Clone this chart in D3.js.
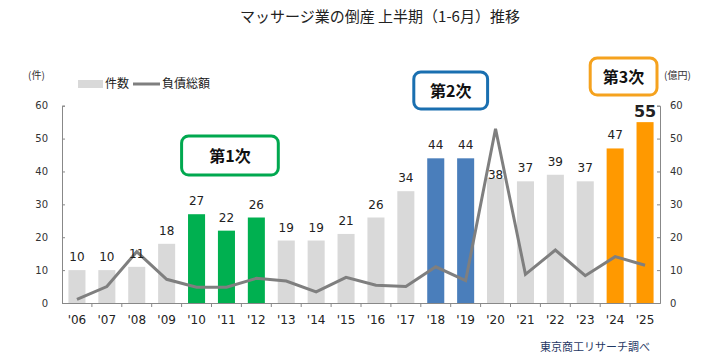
<!DOCTYPE html>
<html><head><meta charset="utf-8">
<script src="https://cdn.jsdelivr.net/npm/d3@7"></script>
<style>body{margin:0;background:#fff}svg{display:block}</style>
</head><body><svg id="c" width="701" height="360"></svg>
<script>
const years = ["'06","'07","'08","'09","'10","'11","'12","'13","'14","'15","'16","'17","'18","'19","'20","'21","'22","'23","'24","'25"];
const counts = [10,10,11,18,27,22,26,19,19,21,26,34,44,44,38,37,39,37,47,55];
const debt = [1.1,5.0,15.6,7.2,4.8,4.8,7.5,6.7,3.4,7.8,5.4,5.0,11.0,6.8,53.0,8.7,16.1,8.3,14.1,11.5];
const phase = [0,0,0,0,1,1,1,0,0,0,0,0,2,2,0,0,0,0,3,3];
const yTicks = [0,10,20,30,40,50,60];
const phaseLabels = ["第1次","第2次","第3次"];

const colors = ["#d9d9d9","#00b050","#4a7ebb","#ff9900"];
const boxColors = ["#00a84f","#1a6fb0","#f5a21e"];
const svg = d3.select("#c");
const L=62, R=660, T=105.7, B=303;
const x = d3.scaleBand().domain(years).range([L,R]).paddingInner(0.43).paddingOuter(0.215);
const xb = d3.scaleBand().domain(years).range([L,R]);
const yL = d3.scaleLinear().domain([0,60]).range([B,T]);
const yR = d3.scaleLinear().domain([0,60]).range([B,T]);
const jp = "'Noto Sans CJK JP', sans-serif";
const num = "'DejaVu Sans', Verdana, sans-serif";

svg.append("text").attr("x",380).attr("y",22).attr("text-anchor","middle")
  .attr("font-family",jp).attr("font-size",15).attr("fill","#222")
  .text("マッサージ業の倒産 上半期（1-6月）推移");

// legend
svg.append("rect").attr("x",78).attr("y",80).attr("width",25).attr("height",8).attr("fill","#d9d9d9");
svg.append("text").attr("x",105).attr("y",88).attr("font-family",jp).attr("font-size",12).attr("fill","#222").text("件数");
svg.append("line").attr("x1",133).attr("x2",160).attr("y1",84).attr("y2",84).attr("stroke","#7f7f7f").attr("stroke-width",3);
svg.append("text").attr("x",162).attr("y",88).attr("font-family",jp).attr("font-size",12).attr("fill","#222").text("負債総額");

svg.append("text").attr("x",28).attr("y",79).attr("font-family",jp).attr("font-size",10).attr("fill","#333").text("(件)");
svg.append("text").attr("x",664).attr("y",79).attr("font-family",jp).attr("font-size",10).attr("fill","#333").text("(億円)");

// bars
svg.append("g").selectAll("rect").data(counts).join("rect")
  .attr("x",(d,i)=>x(years[i])).attr("width",x.bandwidth())
  .attr("y",d=>yL(d)).attr("height",d=>B-yL(d))
  .attr("fill",(d,i)=>colors[phase[i]]);

// axes
const axL = svg.append("g").attr("transform",`translate(${L},0)`)
  .call(d3.axisLeft(yL).tickValues(yTicks).tickSize(-3).tickPadding(14));
const axR = svg.append("g").attr("transform",`translate(${R},0)`)
  .call(d3.axisRight(yR).tickValues(yTicks).tickSize(-3).tickPadding(10));
[axL,axR].forEach(a=>{a.select(".domain").attr("stroke","#888");a.selectAll("line").attr("stroke","#888");
  a.selectAll("text").attr("font-family",num).attr("font-size",10).attr("fill","#333");});
const axB = svg.append("g").attr("transform",`translate(0,${B})`)
  .call(d3.axisBottom(xb).tickSize(0).tickPadding(12));
axB.select(".domain").attr("stroke","#888");
axB.selectAll("text").attr("font-family",num).attr("font-size",12).attr("fill","#222");
axB.append("g").selectAll("line").data(years.slice(1)).join("line")
  .attr("x1",d=>xb(d)).attr("x2",d=>xb(d)).attr("y1",0).attr("y2",4).attr("stroke","#888");

// line
svg.append("path").datum(debt)
  .attr("d",d3.line().x((d,i)=>xb(years[i])+xb.bandwidth()/2).y(d=>yR(d)))
  .attr("fill","none").attr("stroke","#7f7f7f").attr("stroke-width",3).attr("stroke-linejoin","miter");

// value labels
svg.append("g").selectAll("text").data(counts).join("text")
  .attr("x",(d,i)=>x(years[i])+x.bandwidth()/2)
  .attr("y",(d,i)=> years[i]==="'20" ? yL(d)+1 : yL(d)-(i===19?5:9))
  .attr("text-anchor","middle").attr("font-family",num)
  .attr("font-size",(d,i)=>i===19?16:12).attr("font-weight",(d,i)=>i===19?"bold":"normal")
  .attr("fill","#222").text(d=>d);

// phase boxes
const boxes = [
  {p:0, a:"'10", b:"'12", top:136, h:39, dl:0, dr:7},
  {p:1, a:"'18", b:"'19", top:72, h:37, dl:-7, dr:7},
  {p:2, a:"'24", b:"'25", top:58, h:37, dl:-10, dr:-3}
];
boxes.forEach(bx=>{
  const x0 = xb(bx.a)+bx.dl;
  const x1 = xb(bx.b)+xb.bandwidth()+bx.dr;
  svg.append("rect").attr("x",x0).attr("y",bx.top).attr("width",x1-x0).attr("height",bx.h)
    .attr("rx",7).attr("fill","#fff").attr("stroke",boxColors[bx.p]).attr("stroke-width",3);
  svg.append("text").attr("x",(x0+x1)/2).attr("y",bx.top+bx.h/2+6).attr("text-anchor","middle")
    .attr("font-family",jp).attr("font-weight","bold").attr("font-size",16).attr("fill","#111")
    .text(phaseLabels[bx.p]);
});

svg.append("text").attr("x",650).attr("y",351).attr("text-anchor","end")
  .attr("font-family",jp).attr("font-size",11).attr("fill","#1f3864").text("東京商工リサーチ調べ");
</script></body></html>
